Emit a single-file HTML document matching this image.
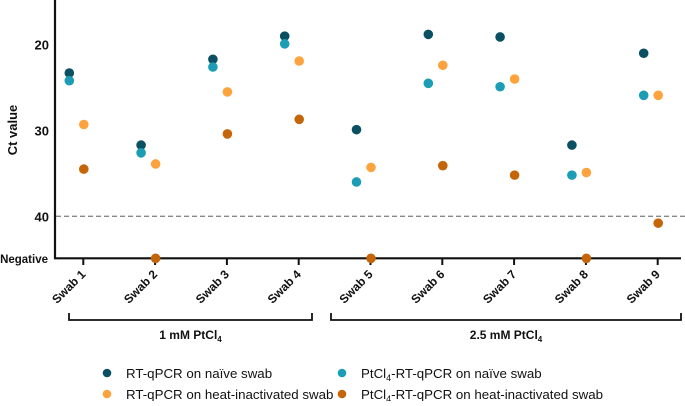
<!DOCTYPE html>
<html><head><meta charset="utf-8"><style>
body{margin:0;background:#fff;}
svg text{font-family:"Liberation Sans",Arial,sans-serif;}
</style></head><body>
<svg id="chart" width="685" height="401">
<g id="axes"></g><g id="dots"></g><g id="legend"></g>
</svg>
<script>
const categories=["Swab 1","Swab 2","Swab 3","Swab 4","Swab 5","Swab 6","Swab 7","Swab 8","Swab 9"];
const NEG=44.9;
const rtNaive=[23.3,31.7,21.7,19.0,29.9,18.8,19.1,31.7,21.0];
const ptNaive=[24.2,32.6,22.6,19.9,36.0,24.5,24.9,35.2,25.9];
const rtHeat=[29.3,33.9,25.5,21.9,34.3,22.4,24.0,34.9,25.9];
const ptHeat=[34.5,NEG,30.4,28.7,NEG,34.1,35.2,NEG,40.8];
const yTicks=[20,30,40];
const seriesNames=["RT-qPCR on naïve swab","PtCl4-RT-qPCR on naïve swab","RT-qPCR on heat-inactivated swab","PtCl4-RT-qPCR on heat-inactivated swab"];
const colors=["#0b4f63","#1a9db5","#fca33e","#c4650a"];
const NS="http://www.w3.org/2000/svg";
function y(v){return 44.7+(v-20)*8.58;}
function x(i){return 83.3+i*71.8;}
function mk(tag,attrs,parent,txt){const e=document.createElementNS(NS,tag);for(const k in attrs)e.setAttribute(k,attrs[k]);if(txt!==undefined)e.textContent=txt;parent.appendChild(e);return e;}
const ax=document.getElementById('axes');
let e=mk('line',{x1:55,y1:0,x2:55,y2:259,stroke:'#111','stroke-width':2.2},ax);

e=mk('line',{x1:54,y1:258.3,x2:681,y2:258.3,stroke:'#111','stroke-width':2.2},ax);

e=mk('line',{x1:56,y1:y(40),x2:685,y2:y(40),stroke:'#888','stroke-width':1.3,'stroke-dasharray':'5,3'},ax);

yTicks.forEach(t=>{
 let l=mk('text',{x:49,y:y(t)+5,'text-anchor':'end','font-size':13,'font-weight':'bold',fill:'#111'},ax,String(t));
 
});
e=mk('text',{x:48,y:263,'text-anchor':'end','font-size':11.5,'font-weight':'bold',fill:'#111'},ax,'Negative');

e=mk('text',{x:0,y:0,transform:'translate(17,130) rotate(-90)','text-anchor':'middle','font-size':13,'font-weight':'bold',fill:'#111'},ax,'Ct value');

categories.forEach((c,i)=>{
 let t=mk('line',{x1:x(i),y1:258,x2:x(i),y2:265,stroke:'#111','stroke-width':2},ax);
 
 let l=mk('text',{x:0,y:0,transform:`translate(${x(i)+3},${275}) rotate(-45)`,'text-anchor':'end','font-size':12,'font-weight':'bold',fill:'#111'},ax,c);
 
});
function bracket(x1,x2,label,name){
 let p=mk('path',{d:`M${x1},313 V320 H${x2} V313`,fill:'none',stroke:'#111','stroke-width':1.8},ax);
 
 let t=mk('text',{x:(x1+x2)/2,y:339,'text-anchor':'middle','font-size':12,'font-weight':'bold',fill:'#111'},ax);
 
 t.innerHTML=label+' PtCl<tspan font-size="8" dy="3">4</tspan>';
}
bracket(69,312,'1 mM','group-1mm');
bracket(331,681,'2.5 mM','group-2-5mm');
const dots=document.getElementById('dots');
const series=[rtNaive,ptNaive,rtHeat,ptHeat];
const offs=[-14,-14,0.5,0.5];
series.forEach((s,si)=>s.forEach((v,i)=>{
 let c=mk('circle',{cx:x(i)+offs[si],cy:y(v),r:4.8,fill:colors[si]},dots);
 
 
}));
const lg=document.getElementById('legend');
const lpos=[[107,373],[342,373],[107,394],[342,394]];
seriesNames.forEach((n,i)=>{
 let c=mk('circle',{cx:lpos[i][0],cy:lpos[i][1],r:4.3,fill:colors[i]},lg);
 
 let t=mk('text',{x:lpos[i][0]+19,y:lpos[i][1]+5,'font-size':13.3,fill:'#111'},lg);
 
 if(n.startsWith('PtCl4')) t.innerHTML='PtCl<tspan font-size="9" dy="3">4</tspan><tspan dy="-3">'+n.slice(5)+'</tspan>';
 else t.textContent=n;
});
</script>
</body></html>
